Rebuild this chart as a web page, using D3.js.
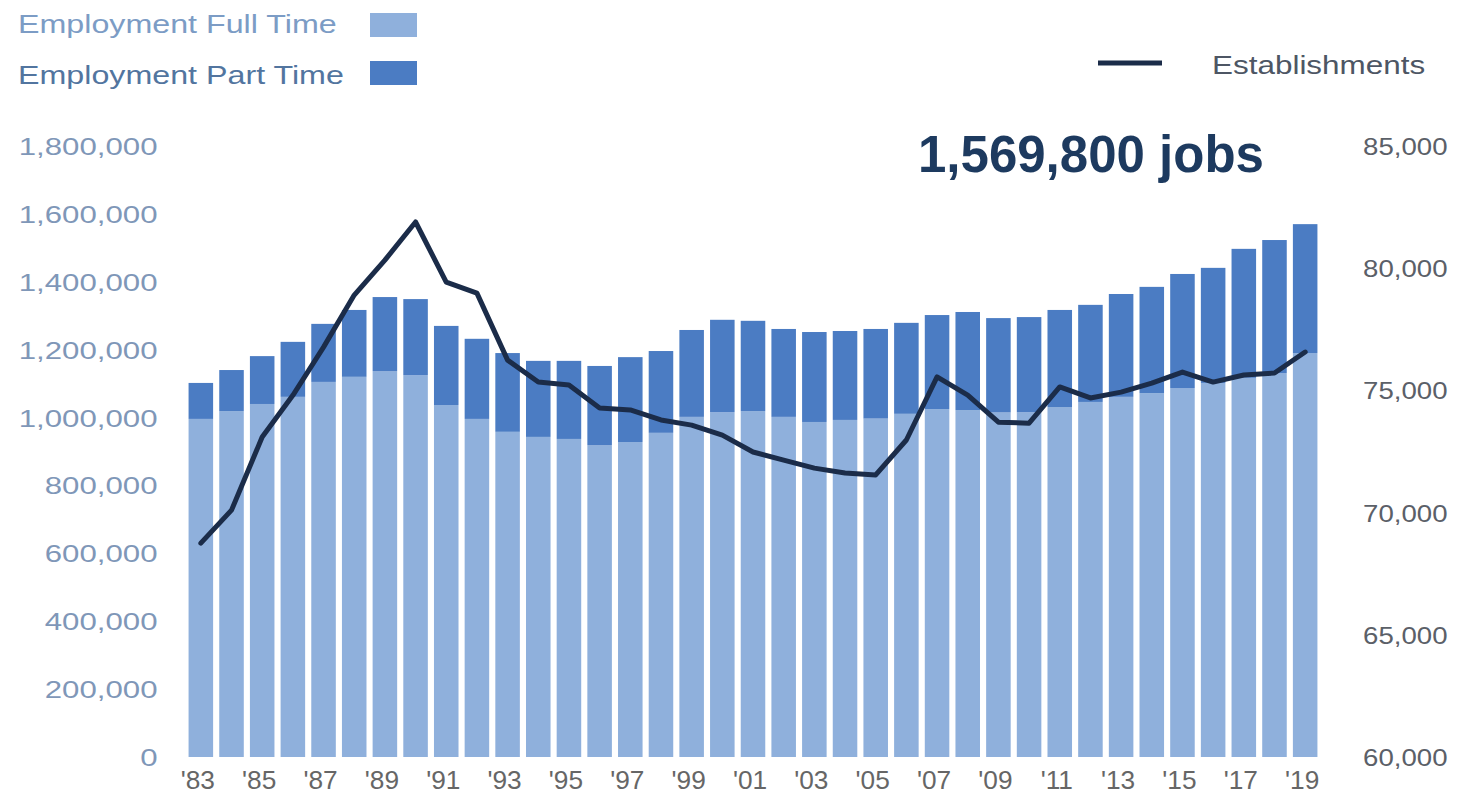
<!DOCTYPE html>
<html>
<head>
<meta charset="utf-8">
<script src="https://cdn.jsdelivr.net/npm/d3@7/dist/d3.min.js"></script>
<style>
  html, body { margin: 0; padding: 0; background: #ffffff; }
  svg { display: block; font-family: "Liberation Sans", Arial, Helvetica, sans-serif; }
</style>
</head>
<body>
<svg id="chart" width="1458" height="809"></svg>
<script>
// Years shown on the category axis
const years = [1983,1984,1985,1986,1987,1988,1989,1990,1991,1992,1993,1994,1995,1996,1997,1998,1999,
  2000,2001,2002,2003,2004,2005,2006,2007,2008,2009,2010,2011,2012,2013,2014,2015,2016,2017,2018,2019];

// Full-time employment (lower stack)
const fullTime = [996000,1019000,1040000,1061000,1105000,1120000,1137000,1125000,1037000,996000,
  958000,943000,937000,919000,928000,955000,1002000,1016000,1019000,1002000,987000,993000,997000,
  1011000,1025000,1022000,1015000,1016000,1031000,1046000,1061000,1072000,1087000,1102000,1117000,
  1131000,1190000];

// Part-time employment (upper stack)
const partTime = [106000,121000,141000,162000,171000,197000,218000,224000,233000,236000,232000,
  224000,230000,233000,250000,241000,256000,272000,266000,259000,265000,262000,264000,268000,
  277000,289000,278000,280000,286000,286000,303000,313000,336000,339000,380000,392000,379800];

// Number of establishments (right axis)
const establishments = [68750,70100,73090,74800,76770,78900,80330,81890,79430,78980,76240,75340,
  75220,74280,74200,73790,73580,73170,72480,72150,71820,71620,71540,72970,75550,74810,73700,
  73660,75140,74690,74930,75300,75750,75340,75630,75710,76570];

const leftTicks = [0,200000,400000,600000,800000,1000000,1200000,1400000,1600000,1800000];
const rightTicks = [60000,65000,70000,75000,80000,85000];

const seriesNames = ["Employment Full Time", "Employment Part Time", "Establishments"];

const colors = { full: "#8fb0dc", part: "#4b7cc3", line: "#1b2c49" };

const svg = d3.select("#chart");

const x = d3.scaleBand().domain(years).range([185.5, 1320.5]).paddingInner(0.2).paddingOuter(0.1);
const yL = d3.scaleLinear().domain([0, 1800000]).range([757, 146]);
const yR = d3.scaleLinear().domain([60000, 85000]).range([757, 146]);

const rows = years.map((yr, i) => ({ year: yr, full: fullTime[i], part: partTime[i], est: establishments[i] }));
const stack = d3.stack().keys(["full", "part"])(rows);

// Stacked bars
svg.append("g").selectAll("g")
  .data(stack)
  .join("g")
  .attr("fill", d => colors[d.key])
  .selectAll("rect")
  .data(d => d)
  .join("rect")
  .attr("x", d => x(d.data.year))
  .attr("width", x.bandwidth())
  .attr("y", d => yL(d[1]))
  .attr("height", d => yL(d[0]) - yL(d[1]));

// Establishments line
const line = d3.line().x(d => x(d.year) + x.bandwidth() / 2).y(d => yR(d.est));
svg.append("path")
  .datum(rows)
  .attr("fill", "none")
  .attr("stroke", colors.line)
  .attr("stroke-width", 5)
  .attr("stroke-linejoin", "round")
  .attr("stroke-linecap", "round")
  .attr("d", line);

// Helper for horizontally stretched text
function label(g, px, py, str, opts) {
  return g.append("text")
    .attr("transform", `translate(${px},${py}) scale(${opts.sx},1)`)
    .attr("text-anchor", opts.anchor || "start")
    .attr("font-size", opts.size)
    .attr("font-weight", opts.weight || "normal")
    .attr("fill", opts.color)
    .text(str);
}

// Left axis
const axL = svg.append("g").attr("transform", "translate(185.5,0)")
  .call(d3.axisLeft(yL).tickValues(leftTicks).tickFormat(d3.format(",")).tickSize(0).tickPadding(0));
axL.select(".domain").remove();
axL.selectAll(".tick text").remove();
axL.selectAll(".tick").each(function(d) {
  label(d3.select(this), -28, 8.5, d3.format(",")(d), { size: 24, sx: 1.3, anchor: "end", color: "#7f97b8" });
});

// Right axis
const axR = svg.append("g").attr("transform", "translate(1320.5,0)")
  .call(d3.axisRight(yR).tickValues(rightTicks).tickFormat(d3.format(",")).tickSize(0).tickPadding(0));
axR.select(".domain").remove();
axR.selectAll(".tick text").remove();
axR.selectAll(".tick").each(function(d) {
  label(d3.select(this), 127, 8.5, d3.format(",")(d), { size: 23, sx: 1.2, anchor: "end", color: "#5b6068" });
});

// Category axis: every other year
const axB = svg.append("g").attr("transform", "translate(0,757)")
  .call(d3.axisBottom(x).tickValues(years.filter((d, i) => i % 2 === 0)).tickSize(0).tickPadding(0));
axB.select(".domain").remove();
axB.selectAll(".tick text").remove();
axB.selectAll(".tick").each(function(d) {
  label(d3.select(this), -3, 32, "'" + String(d).slice(2), { size: 25, sx: 1.05, anchor: "middle", color: "#666666" });
});

// Legend
const leg = svg.append("g");
label(leg, 18, 33, seriesNames[0], { size: 26, sx: 1.24, color: "#7c9cc5" });
label(leg, 18, 84, seriesNames[1], { size: 26, sx: 1.24, color: "#52759f" });
leg.append("rect").attr("x", 370).attr("y", 13).attr("width", 47).attr("height", 24).attr("fill", colors.full);
leg.append("rect").attr("x", 370).attr("y", 61).attr("width", 47).attr("height", 24).attr("fill", colors.part);
leg.append("line").attr("x1", 1098).attr("x2", 1162).attr("y1", 63).attr("y2", 63)
  .attr("stroke", colors.line).attr("stroke-width", 5);
label(leg, 1212, 74, seriesNames[2], { size: 26, sx: 1.21, color: "#4d5664" });

// Headline total for the latest year
const lastTotal = fullTime[fullTime.length - 1] + partTime[partTime.length - 1];
label(svg, 918, 172, d3.format(",")(lastTotal) + " jobs", { size: 51, sx: 1.0, weight: "bold", color: "#1d3a5f" });
</script>
</body>
</html>
